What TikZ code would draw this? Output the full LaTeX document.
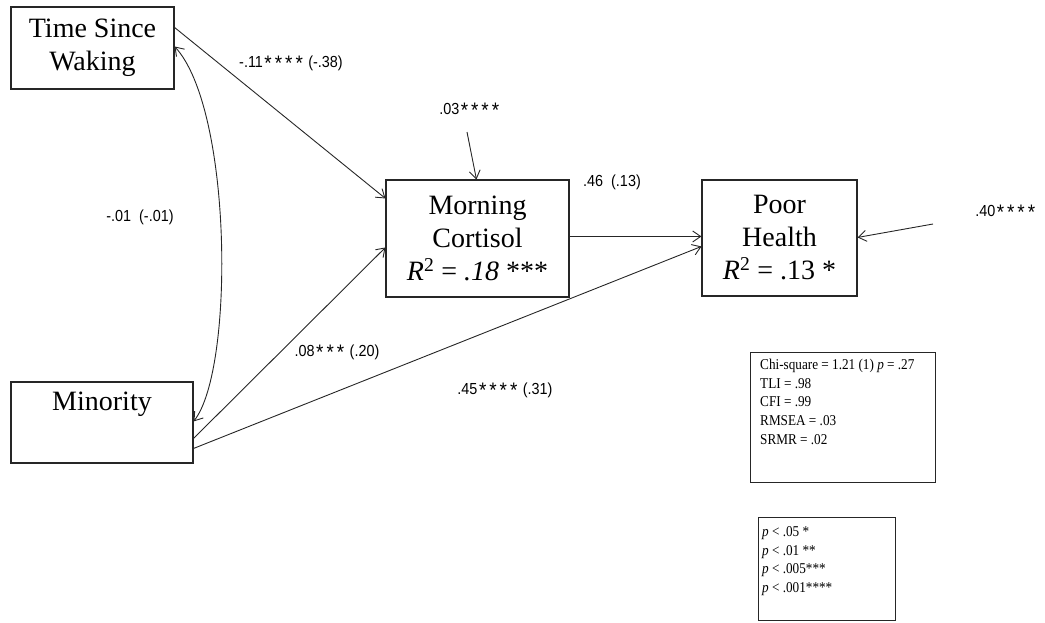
\documentclass[tikz,border=0pt]{standalone}
\usepackage{fontspec}
\usepackage{graphicx}
\setmainfont{Liberation Serif}
\newfontfamily\labfont{Liberation Sans}
\usetikzlibrary{arrows.meta,calc}
\newcommand\sk{\makebox[11.5pt]{\raisebox{-3pt}{\fontsize{21}{21}\selectfont *}}}
\newcommand\lbltext[1]{\scalebox{0.9}[1]{#1}}
\newcommand\legtab[1]{\scalebox{0.88}[1]{\begin{tabular}{@{}l@{}}#1\end{tabular}}}
\tikzset{
  varbox/.style={draw=black!85, line width=1.1pt, inner sep=0pt, align=center,
    font=\fontsize{28}{33}\selectfont},
  lbl/.style={font=\labfont\fontsize{16}{18}\selectfont, inner sep=0pt},
  conn/.style={draw=black!85, line width=0.9pt, -{Straight Barb[length=8pt,width=11pt]}},
  conntwo/.style={draw=black!85, line width=0.9pt,
    {Straight Barb[length=8pt,width=11pt]}-{Straight Barb[length=8pt,width=11pt]}},
  legbox/.style={draw=black!85, line width=1pt, inner sep=0pt},
  legtext/.style={font=\fontsize{15}{18.8}\selectfont, inner sep=0pt, anchor=north west}
}
\begin{document}
\begin{tikzpicture}[x=1pt,y=-1pt]
\useasboundingbox (0,0) rectangle (1045,622);
% variable boxes
\node[varbox, minimum width=163pt, minimum height=82pt] (tsw) at (92.5,48) {Time Since\\Waking};
\node[varbox, minimum width=182pt, minimum height=81pt] (mino) at (102,422.5) {Minority\\\strut};
\node[varbox, minimum width=183pt, minimum height=117pt] (mc) at (477.5,238.5)
  {Morning\\Cortisol\\\textit{R}\textsuperscript{2} = \textit{.18} ***};
\node[varbox, minimum width=155pt, minimum height=116pt] (ph) at (779.5,238)
  {Poor\\Health\\\textit{R}\textsuperscript{2} = .13 *};
% legend boxes
\node[legbox, minimum width=185pt, minimum height=130pt] (fit) at (842.5,417) {};
\node[legtext] (fittxt) at (760,356)
  {\legtab{Chi-square = 1.21 (1) \textit{p} = .27\\TLI = .98\\CFI = .99\\RMSEA = .03\\SRMR = .02}};
\node[legbox, minimum width=137pt, minimum height=103pt] (sig) at (826.5,568.5) {};
\node[legtext] (sigtxt) at (762,523)
  {\legtab{\textit{p} < .05 *\\\textit{p} < .01 **\\\textit{p} < .005***\\\textit{p} < .001****}};
% labels
\node[lbl] (l1) at (291,63) {\lbltext{-.11\sk\sk\sk\sk{} (-.38)}};
\node[lbl] (l2) at (140,217) {\lbltext{-.01\ \ (-.01)}};
\node[lbl] (l3) at (337,352) {\lbltext{.08\sk\sk\sk{} (.20)}};
\node[lbl] (l4) at (505,390) {\lbltext{.45\sk\sk\sk\sk{} (.31)}};
\node[lbl] (e1) at (470,110) {\lbltext{.03\sk\sk\sk\sk}};
\node[lbl] (l5) at (612,182) {\lbltext{.46\ \ (.13)}};
\node[lbl] (e2) at (1006,212) {\lbltext{.40\sk\sk\sk\sk}};
% error arrow starts
\coordinate (e1s) at (467,132);
\coordinate (e2s) at (933,224);
% connectors
\draw[conn] ([yshift=-21pt]tsw.north east) -- ([yshift=-19pt]mc.north west);
\draw[conntwo] ([yshift=-40pt]tsw.north east) .. controls +(58,63) and +(41,-52) .. ([yshift=-40pt]mino.north east);
\draw[conn] ([yshift=-57pt]mino.north east) -- ([yshift=-68pt]mc.north west);
\draw[conn] ([yshift=-67pt]mino.north east) -- ([yshift=-67pt]ph.north west);
\draw[conn] ([yshift=-57pt]mc.north east) -- ([yshift=-57pt]ph.north west);
\draw[conn] (e1s) -- ([xshift=91pt]mc.north west);
\draw[conn] (e2s) -- ([yshift=-58pt]ph.north east);
\end{tikzpicture}
\end{document}
